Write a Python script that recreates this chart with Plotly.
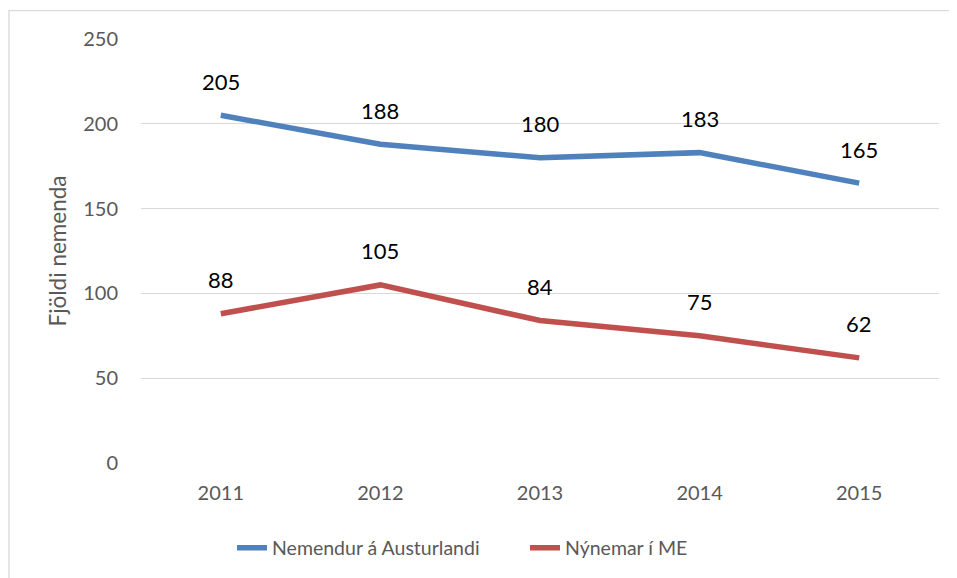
import plotly.graph_objects as go

years = ["2011", "2012", "2013", "2014", "2015"]
nemendur = [205, 188, 180, 183, 165]
nynemar = [88, 105, 84, 75, 62]
series_names = ["Nemendur á Austurlandi", "Nýnemar í ME"]
y_ticks = [0, 50, 100, 150, 200, 250]

BLUE = "#4F81BD"
RED = "#C0504D"
FONT = "Lato"

fig = go.Figure()
for name, vals, col in [(series_names[0], nemendur, BLUE), (series_names[1], nynemar, RED)]:
    fig.add_trace(go.Scatter(x=years, y=vals, mode="lines", name=name,
                             line=dict(color=col, width=5.5), hoverinfo="skip"))
    for i, v in enumerate(vals):
        fig.add_annotation(x=i, y=v, xref="x", yref="y", text=str(v), showarrow=False,
                           yshift=34, font=dict(family=FONT, size=22, color="#000000"))

# page offset caused by the 8px body margin of the html page
OFF = 8
L, T, PW, PH = 141, 39, 798, 425  # plot area in page pixels
W, H = 957 - OFF, 578 - OFF
fig.update_layout(
    width=W, height=H,
    margin=dict(l=L - OFF, r=W - (L - OFF) - PW, t=T - OFF, b=H - (T - OFF) - PH, pad=0),
    paper_bgcolor="white", plot_bgcolor="white",
    font=dict(family=FONT, color="#595959"),
    showlegend=True,
    legend=dict(orientation="h", x=(232 - L) / PW, xanchor="left",
                y=(PH + T - 548) / PH, yanchor="middle",
                font=dict(family=FONT, size=19.5, color="#595959"),
                entrywidth=248, entrywidthmode="pixels",
                bgcolor="rgba(0,0,0,0)"),
    xaxis=dict(type="category", range=[-0.5, 4.5], showgrid=False, showline=False,
               zeroline=False, ticks="", tickfont=dict(family=FONT, size=20, color="#595959"),
               ticklabelstandoff=16),
    yaxis=dict(range=[0, 250], tickvals=y_ticks, showgrid=True, gridcolor="#D9D9D9",
               gridwidth=1.3, zeroline=False, showline=False, ticks="",
               tickfont=dict(family=FONT, size=20, color="#595959"),
               ticklabelstandoff=22,
               title=dict(text="Fjöldi nemenda", font=dict(family=FONT, size=22.5, color="#595959"),
                          standoff=10)),
)
# outer chart border
fig.add_shape(type="rect", xref="paper", yref="paper",
              x0=(9 - L) / PW, x1=1.2, y0=-0.5, y1=(PH + T - 10.5) / PH,
              line=dict(color="#D9D9D9", width=1.3), fillcolor="rgba(0,0,0,0)", layer="below")

fig.write_html("out.html")
